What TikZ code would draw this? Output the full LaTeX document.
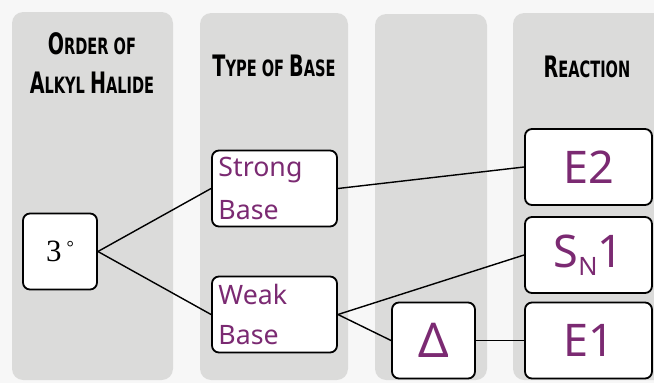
\documentclass[tikz,border=0pt]{standalone}
\usepackage{fontspec}
\usepackage{graphicx}
\usepackage{tikz}
\usetikzlibrary{positioning}
\newfontfamily\headfont{DejaVu Sans Condensed}
\newfontfamily\handfont{Noto Sans}
\newfontfamily\degfont{Liberation Serif}
\definecolor{colGray}{HTML}{DBDBDA}
\definecolor{penPurple}{HTML}{7B2A72}
% small caps by hand: first letters a size up
\newcommand{\capA}[1]{{\fontsize{21}{28}\selectfont #1}}
\newcommand{\hd}[1]{\scalebox{0.72}[1]{#1}}

\begin{document}
\begin{tikzpicture}[x=0.025cm,y=-0.025cm,
  col/.style={fill=colGray,draw=none,rounded corners=8pt},
  head/.style={align=center,font=\headfont\bfseries\fontsize{16}{28}\selectfont},
  box/.style={draw=black,line width=1.3pt,fill=white,rounded corners=5pt,
    minimum height=1.9cm,inner sep=2pt},
  hand/.style={text=penPurple,font=\handfont},
  link/.style={line width=1pt}]
\useasboundingbox (0,0) rectangle (654,383);
\fill[white!97!black] (0,0) rectangle (654,383);
\clip (0,0) rectangle (654,383);
% columns
\fill[col] (12,12) rectangle (173,380);
\fill[col] (200,13) rectangle (348,380);
\fill[col] (375,14) rectangle (487,380);
\fill[col] (513,13) rectangle (680,380);
% column headings
\node[head] (hOrder) at (92,63) {\hd{\capA{O}RDER OF}\\\hd{\capA{A}LKYL \capA{H}ALIDE}};
\node[head] (hBase) at (274,66) {\hd{\capA{T}YPE OF \capA{B}ASE}};
\node[head] (hRxn) at (587,67) {\hd{\capA{R}EACTION}};
% boxes
\node[box,minimum width=1.85cm,font=\degfont\fontsize{22}{22}\selectfont] (deg) at (60,251.5) {3\,\raisebox{0.6ex}{\fontsize{13}{13}\selectfont°}};
\node[box,hand,minimum width=3.125cm,align=left,text width=2.8cm,
  font=\handfont\fontsize{19}{30}\selectfont] (strong) at (274.5,188.5) {Strong\\Base};
\node[box,hand,minimum width=3.125cm,align=left,text width=2.8cm,
  font=\handfont\fontsize{19}{28}\selectfont] (weak) at (274.5,314.5) {Weak\\Base};
\node[box,hand,minimum width=2.075cm,font=\handfont\fontsize{34}{34}\selectfont] (heat) at (433.5,340.5) {Δ};
\node[box,hand,minimum width=3.175cm,font=\handfont\fontsize{32}{32}\selectfont] (eTwo) at (588.5,167) {E2};
\node[box,hand,minimum width=3.175cm,font=\handfont\fontsize{32}{32}\selectfont] (snOne) at (588.5,255) {S\raisebox{-0.35ex}{\fontsize{18}{18}\selectfont N}1};
\node[box,hand,minimum width=3.175cm,font=\handfont\fontsize{32}{32}\selectfont] (eOne) at (588.5,340.5) {E1};
% connectors
\draw[link] (deg.east) -- (strong.west);
\draw[link] (deg.east) -- (weak.west);
\draw[link] (strong.east) -- (eTwo.west);
\draw[link] (weak.east) -- (snOne.west);
\draw[link] (weak.east) -- (heat.west);
\draw[link] (heat.east) -- (eOne.west);
\end{tikzpicture}
\end{document}
